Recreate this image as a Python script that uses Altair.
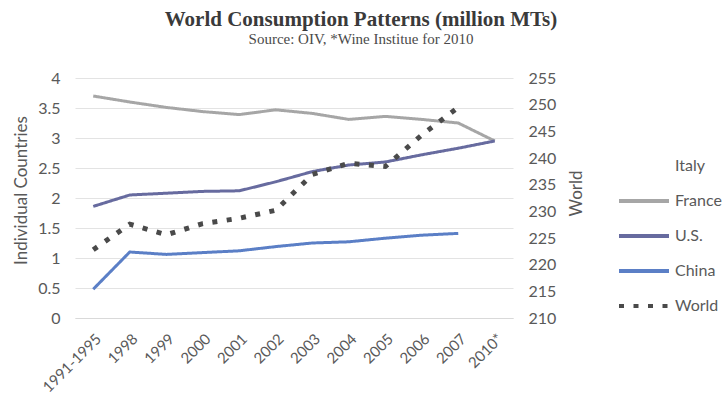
import altair as alt
import pandas as pd

categories = ["1991-1995", "1998", "1999", "2000", "2001", "2002", "2003",
              "2004", "2005", "2006", "2007", "2010*"]
france = [3.70, 3.60, 3.51, 3.44, 3.39, 3.47, 3.41, 3.31, 3.36, 3.31, 3.25, 2.95]
us = [1.86, 2.05, 2.08, 2.11, 2.12, 2.27, 2.44, 2.55, 2.60, 2.72, 2.83, 2.95]
china = [0.48, 1.10, 1.06, 1.09, 1.12, 1.19, 1.25, 1.27, 1.33, 1.38, 1.41, None]
world = [222.8, 227.6, 225.6, 227.7, 228.7, 230.2, 236.9, 239.0, 238.4, 244.3, 249.5, None]

series_names = ["Italy", "France", "U.S.", "China", "World"]
series_colors = ["transparent", "#a6a6a6", "#676b9f", "#5b7fc6", "#4a4a4a"]
series_dashes = [[1, 0], [1, 0], [1, 0], [1, 0], [5, 9.5]]

left_ticks = [0, 0.5, 1, 1.5, 2, 2.5, 3, 3.5, 4]
right_ticks = [210, 215, 220, 225, 230, 235, 240, 245, 250, 255]

rows = []
for name, vals in [("France", france), ("U.S.", us), ("China", china)]:
    for c, v in zip(categories, vals):
        if v is not None:
            rows.append({"cat": c, "series": name, "value": v})
countries_df = pd.DataFrame(rows)

world_rows = []
for c, v in zip(categories, world):
    if v is not None:
        world_rows.append({"cat": c, "series": "World", "value": v})
world_df = pd.DataFrame(world_rows)

FONT = "Lato"
LABEL_COLOR = "#595959"
TICK_SIZE = 16
TITLE_SIZE = 17

x_enc = alt.X(
    "cat:N",
    sort=categories,
    scale=alt.Scale(domain=categories),
    axis=alt.Axis(
        title=None,
        labelAngle=-45,
        labelFontSize=15,
        labelColor=LABEL_COLOR,
        labelFont=FONT,
        domainColor="#d9d9d9",
        ticks=False,
        labelPadding=13,
        grid=False,
    ),
)

legend = alt.Legend(title=None, orient="none", legendX=542, legendY=61)
color_enc = alt.Color(
    "series:N",
    scale=alt.Scale(domain=series_names, range=series_colors),
    legend=legend,
)
dash_enc = alt.StrokeDash(
    "series:N",
    scale=alt.Scale(domain=series_names, range=series_dashes),
    legend=legend,
)

left = alt.Chart(countries_df).mark_line(strokeWidth=3).encode(
    x=x_enc,
    y=alt.Y(
        "value:Q",
        scale=alt.Scale(domain=[0, 4], nice=False),
        axis=alt.Axis(
            orient="left",
            values=left_ticks,
            format="~g",
            domain=False,
            ticks=False,
            grid=True,
            gridColor="#e3e3e3",
            labelFontSize=TICK_SIZE,
            labelColor=LABEL_COLOR,
            labelFont=FONT,
            labelPadding=15,
            title="Individual Countries",
            titleFont=FONT,
            titleFontSize=TITLE_SIZE,
            titleFontWeight="normal",
            titleColor=LABEL_COLOR,
            titleAngle=270,
            titleX=-54,
            titleY=112,
            titleAlign="center",
            titleBaseline="middle",
        ),
    ),
    color=color_enc,
    strokeDash=dash_enc,
)

right = alt.Chart(world_df).mark_line(strokeWidth=5).encode(
    x=x_enc,
    y=alt.Y(
        "value:Q",
        scale=alt.Scale(domain=[210, 255], nice=False),
        axis=alt.Axis(
            orient="right",
            values=right_ticks,
            format="d",
            domain=False,
            ticks=False,
            grid=False,
            labelFontSize=TICK_SIZE,
            labelColor=LABEL_COLOR,
            labelFont=FONT,
            labelPadding=15,
            title="World",
            titleFont=FONT,
            titleFontSize=TITLE_SIZE,
            titleFontWeight="normal",
            titleColor=LABEL_COLOR,
            titleAngle=270,
            titleX=63,
            titleY=115,
            titleAlign="center",
            titleBaseline="middle",
        ),
    ),
    color=color_enc,
    strokeDash=dash_enc,
)

chart = (
    alt.layer(left, right)
    .resolve_scale(y="independent")
    .properties(
        width=438,
        height=240,
        autosize=alt.AutoSizeParams(type="none"),
        padding={"left": 75, "top": 78, "right": 209, "bottom": 81},
        title=alt.TitleParams(
            text="World Consumption Patterns (million MTs)",
            subtitle="Source: OIV, *Wine Institue for 2010",
            font="Liberation Serif",
            fontSize=21,
            fontWeight="bold",
            color="#3a3a3a",
            subtitleFont="Liberation Serif",
            subtitleFontSize=15,
            subtitleColor="#4a4a4a",
            subtitlePadding=2,
            anchor="middle",
            frame="group",
            dx=67,
            offset=23,
        ),
    )
    .configure_view(stroke=None)
    .configure_legend(
        symbolType="stroke",
        symbolSize=2500,
        symbolStrokeWidth=4,
        labelFont=FONT,
        labelFontSize=16,
        labelColor=LABEL_COLOR,
        rowPadding=0,
        padding=0,
        labelOffset=4,
    )
)

chart.save("out.html", embed_options={"renderer": "svg", "actions": False})
